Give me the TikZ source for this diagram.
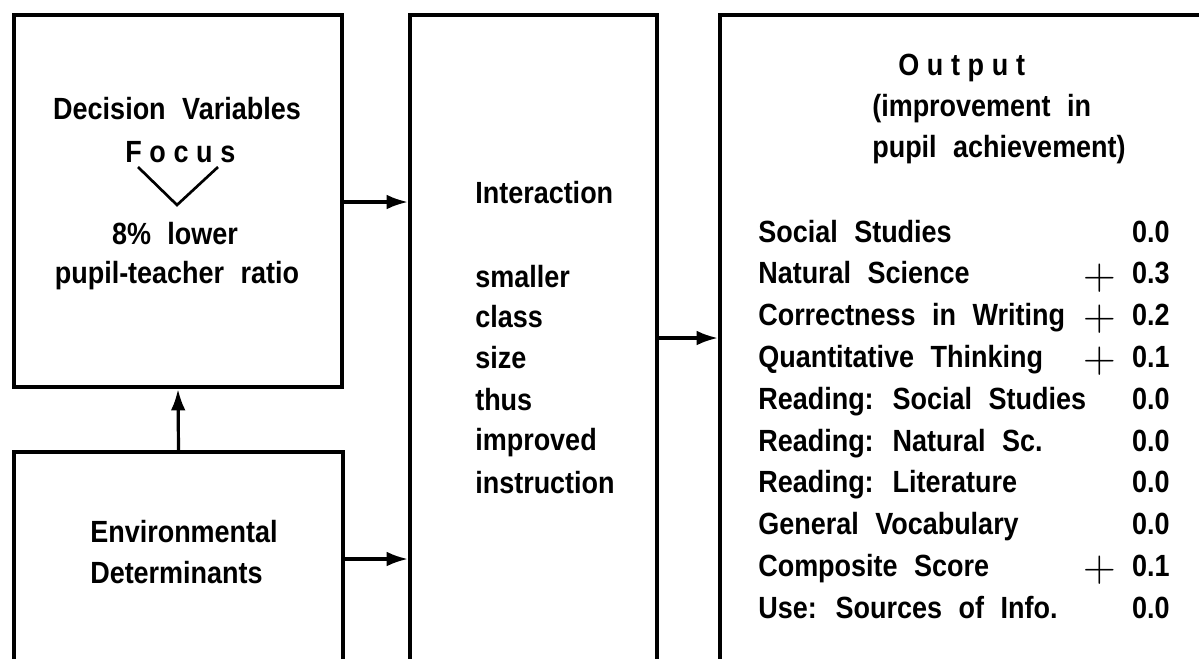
\documentclass[tikz,border=0pt]{standalone}
\usepackage{fontspec}
\setmainfont{Liberation Sans}[FakeStretch=0.88, WordSpace=2.2]
\newfontfamily\plusfont{Latin Modern Roman}
\usetikzlibrary{fit,arrows.meta}

\tikzset{
  box/.style={draw, line width=3pt, inner sep=0pt},
  arr/.style={line width=2.4pt, -{Latex[length=16pt,width=11pt]}},
  txt/.style={inner sep=0pt, font=\fontsize{23}{31}\selectfont\bfseries},
  spaced/.style={txt, font=\fontsize{23}{31}\selectfont\bfseries\addfontfeature{LetterSpace=25}},
  sign/.style={inner sep=0pt, font=\fontsize{34}{34}\selectfont\plusfont},
}

\begin{document}
\begin{tikzpicture}[x=0.75pt, y=-0.75pt]
  \useasboundingbox (0,0) rectangle (1199,658);
  \clip (0,0) rectangle (1199,658);

  % the four blocks (the lower three run off the bottom edge)
  \node[box, fit={(14,15) (342,387)}] (dec) {};
  \node[box, fit={(14,452) (343,700)}] (env) {};
  \node[box, fit={(410,15) (657,700)}] (inter) {};
  \node[box, fit={(720,15) (1240,700)}] (out) {};

  % connectors
  \coordinate (ya) at (0,202);
  \coordinate (yb) at (0,559);
  \coordinate (yc) at (0,338);
  \draw[arr] (dec.east |- ya) -- (inter.west |- ya);
  \draw[arr] (env.east |- yb) -- (inter.west |- yb);
  \draw[arr] (inter.east |- yc) -- (out.west |- yc);
  \draw[arr] (env.north) -- (dec.south);

  % decision variables
  \node[txt, anchor=base] (dv) at (177,119) {Decision Variables};
  \node[spaced, anchor=base west] (focus) at (125,162) {Focus};
  \coordinate (vl) at (138,167);
  \coordinate (vm) at (177,205);
  \coordinate (vr) at (218,167);
  \draw[line width=2pt] (vl) -- (vm) -- (vr);
  \node[txt, anchor=base] (lower) at (175,244) {8\% lower};
  \node[txt, anchor=base] (ratio) at (177,283) {pupil-teacher ratio};

  % environmental determinants
  \node[txt, anchor=base west] (env1) at (90,542) {Environmental};
  \node[txt, anchor=base west] (env2) at (90,583) {Determinants};

  % interaction
  \node[txt, anchor=base west] (i0) at (475,203) {Interaction};
  \node[txt, anchor=base west] (i1) at (475,287) {smaller};
  \node[txt, anchor=base west] (i2) at (475,327) {class};
  \node[txt, anchor=base west] (i3) at (475,368) {size};
  \node[txt, anchor=base west] (i4) at (475,410) {thus};
  \node[txt, anchor=base west] (i5) at (475,450) {improved};
  \node[txt, anchor=base west] (i6) at (475,493) {instruction};

  % output heading
  \node[spaced, anchor=base west] (o0) at (898,75) {Output};
  \node[txt, anchor=base west] (o1) at (872,116) {(improvement in};
  \node[txt, anchor=base west] (o2) at (872,157) {pupil achievement)};

  % output scores
  \foreach \lab/\val/\pl [count=\k from 0] in {
      Social Studies/0.0/0,
      Natural Science/0.3/1,
      Correctness in Writing/0.2/1,
      Quantitative Thinking/0.1/1,
      Reading: Social Studies/0.0/0,
      Reading: Natural Sc./0.0/0,
      Reading: Literature/0.0/0,
      General Vocabulary/0.0/0,
      Composite Score/0.1/1,
      Use: Sources of Info./0.0/0} {
    \pgfmathsetmacro{\yb}{242+41.8*\k}
    \node[txt, anchor=base west] (lab\k) at (758,\yb) {\lab};
    \node[txt, anchor=base east] (val\k) at (1170,\yb) {\val};
    \ifnum\pl=1
      \node[sign] (pl\k) at (1100,\yb-6) {+};
    \fi
  }
\end{tikzpicture}
\end{document}
